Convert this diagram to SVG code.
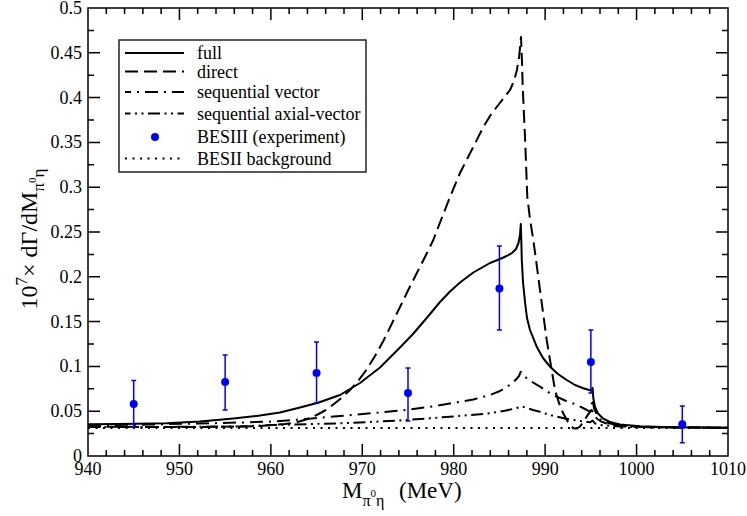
<svg xmlns="http://www.w3.org/2000/svg" width="747" height="516" viewBox="0 0 747 516" font-family="'Liberation Serif','Times New Roman',serif">
<style>
text{font-family:"Liberation Serif","Times New Roman",serif;fill:#000}
.tick{font-size:18px}
.curve{fill:none;stroke:#000;stroke-width:2;stroke-linejoin:round}
.full{}
.direct{stroke-dasharray:13 6}
.seqv{stroke-dasharray:13 6 2 6}
.seqa{stroke-dasharray:12 4.5 2 4.5 2 4.5}
.bg{stroke-dasharray:2 5.5}
.err{stroke:#0000ff;stroke-width:1.5;fill:none}
.pt{fill:#0000ff}
</style>
<rect width="747" height="516" fill="#fff"/>
<g id="axes">
<path d="M179.43 456v-12M270.86 456v-12M362.29 456v-12M453.71 456v-12M545.14 456v-12M636.57 456v-12M179.43 8v12M270.86 8v12M362.29 8v12M453.71 8v12M545.14 8v12M636.57 8v12M88 411.2h12M88 366.4h12M88 321.6h12M88 276.8h12M88 232h12M88 187.2h12M88 142.4h12M88 97.6h12M88 52.8h12M728 411.2h-12M728 366.4h-12M728 321.6h-12M728 276.8h-12M728 232h-12M728 187.2h-12M728 142.4h-12M728 97.6h-12M728 52.8h-12" stroke="#000" stroke-width="1.5" fill="none"/>
<path d="M106.29 456v-6M124.57 456v-6M142.86 456v-6M161.14 456v-6M197.71 456v-6M216 456v-6M234.29 456v-6M252.57 456v-6M289.14 456v-6M307.43 456v-6M325.71 456v-6M344 456v-6M380.57 456v-6M398.86 456v-6M417.14 456v-6M435.43 456v-6M472 456v-6M490.29 456v-6M508.57 456v-6M526.86 456v-6M563.43 456v-6M581.71 456v-6M600 456v-6M618.29 456v-6M654.86 456v-6M673.14 456v-6M691.43 456v-6M709.71 456v-6M106.29 8v6M124.57 8v6M142.86 8v6M161.14 8v6M197.71 8v6M216 8v6M234.29 8v6M252.57 8v6M289.14 8v6M307.43 8v6M325.71 8v6M344 8v6M380.57 8v6M398.86 8v6M417.14 8v6M435.43 8v6M472 8v6M490.29 8v6M508.57 8v6M526.86 8v6M563.43 8v6M581.71 8v6M600 8v6M618.29 8v6M654.86 8v6M673.14 8v6M691.43 8v6M709.71 8v6M88 433.6h6M88 388.8h6M88 344h6M88 299.2h6M88 254.4h6M88 209.6h6M88 164.8h6M88 120h6M88 75.2h6M88 30.4h6M728 433.6h-6M728 388.8h-6M728 344h-6M728 299.2h-6M728 254.4h-6M728 209.6h-6M728 164.8h-6M728 120h-6M728 75.2h-6M728 30.4h-6" stroke="#000" stroke-width="1.5" fill="none"/>
<g class="tick" text-anchor="middle">
<text x="88" y="475">940</text>
<text x="179.43" y="475">950</text>
<text x="270.86" y="475">960</text>
<text x="362.29" y="475">970</text>
<text x="453.71" y="475">980</text>
<text x="545.14" y="475">990</text>
<text x="636.57" y="475">1000</text>
<text x="728" y="475">1010</text>
</g>
<g class="tick" text-anchor="end">
<text x="82" y="462">0</text>
<text x="82" y="417.2">0.05</text>
<text x="82" y="372.4">0.1</text>
<text x="82" y="327.6">0.15</text>
<text x="82" y="282.8">0.2</text>
<text x="82" y="238">0.25</text>
<text x="82" y="193.2">0.3</text>
<text x="82" y="148.4">0.35</text>
<text x="82" y="103.6">0.4</text>
<text x="82" y="58.8">0.45</text>
<text x="82" y="14">0.5</text>
</g>
<text x="342" y="498" font-size="23">M<tspan font-size="16" dy="8">π</tspan><tspan font-size="11" dy="-9">0</tspan><tspan font-size="16" dy="9">η</tspan><tspan x="399" dy="-8">(MeV)</tspan></text>
<text transform="translate(37,239) rotate(-90)" text-anchor="middle" font-size="24">10<tspan font-size="17" dy="-10">7</tspan><tspan dy="10">× dΓ/dM</tspan><tspan font-size="17" dy="7">π</tspan><tspan font-size="11" dy="-8">0</tspan><tspan font-size="17" dy="8">η</tspan></text>
</g>
<g id="curves">
<polyline id="curve-bg" class="curve bg" points="88,428 728,428"/>
<polyline id="curve-seqa" class="curve seqa" points="88,427 150,427 240,426.5 273.3,425 340,423.3 380,421.5 406.7,420 430,418.3 450,416.7 470,415 490,413.3 506,410.5 515,408.5 521.7,406.5 527,408 533,410 540,411.7 548,414.5 556.7,416.7 565,418.5 573.3,420 582,421.3 590,422.3 592.7,420.5 595,423.5 600,425 620,426.5 640,427.2 728,427.8"/>
<polyline id="curve-seqv" class="curve seqv" points="88,425.5 150,424.5 200,423.5 240,422.5 273.3,421.5 300,419.5 340,416 380,412.5 406.7,410 430,406.8 450,403.5 473.3,399.5 490,395 500,391 506.7,387 512,383.5 516,379.5 519,376 520.8,371.7 523,375 527,378.5 533,382.5 540,386.7 548,392 556.7,396.7 565,400.5 573.3,403.5 582,407.5 590,411.7 592.7,399 594,408 597,415 600,419.5 610,423.5 620,425.5 640,427 728,427.8"/>
<polyline id="curve-direct" class="curve direct" points="88,426.5 150,427 200,427 240,426.5 260,426 273.3,425 285,424 296.7,422.3 306,419.5 316.7,415 325,410.5 333.3,404.5 342,397.5 350,390 358,381 366.7,369.5 375,356 383.3,341 391.7,324 400,307 408,290.5 416.7,273.3 425,257 433.3,240 441,220 450,197 460,173 471.7,150 483.3,127 490,116 496.7,107 503,99 510,90 514,81 516.7,71 519,58 521,37 522,62 522.7,87 525,137 527.3,197 530,219 533.3,240 536.7,265 540,290 546.7,340 550,360 555,390 559,403 563.3,413.5 568,422 573.3,428.3 577,428.5 580,426.5 584,421 588,414.5 591.7,410 593,412 596.7,418.5 601,421.5 606.7,423.5 620,425.5 640,426.8 680,427.5 728,427.7"/>
<polyline id="curve-full" class="curve full" points="88,424.3 120,424 166.7,423.3 200,421.5 233.3,418.5 260,415.5 280,412.5 300,407.5 318,402.7 340,395 360,383 380,367.5 400,347.5 413,334 426.7,318 440,302 450,291.5 460,282.5 473.3,272.5 490,263 500,259 506.7,256 512,253 516,249 518.5,243 520,235 520.8,224 521.3,240 521.8,260 523,282 525,302 527,318 530,330 536.7,346.7 543,358 550,366.7 558,374 566.7,380 575,385 583.3,388.3 589,390 591.5,390.5 592.6,388 593.3,398 595,407 598,413.5 603,418.5 610,422 620,424.5 640,426.3 670,427.2 728,427.7"/>
</g>
<g id="data">
<path class="err" d="M133.71 380.5V427M131.2 380.5h5M131.2 427h5M225.14 355V410M222.6 355h5M222.6 410h5M316.57 342V403M314 342h5M314 403h5M408 368V421M405.5 368h5M405.5 421h5M499.43 246V330M496.9 246h5M496.9 330h5M590.86 330V393M588.4 330h5M588.4 393h5M682.29 406V442.7M679.8 406h5M679.8 442.7h5"/>
<circle class="pt" cx="133.71" cy="404" r="4"/>
<circle class="pt" cx="225.14" cy="382" r="4"/>
<circle class="pt" cx="316.57" cy="373" r="4"/>
<circle class="pt" cx="408" cy="393" r="4"/>
<circle class="pt" cx="499.43" cy="288.5" r="4"/>
<circle class="pt" cx="590.86" cy="362" r="4"/>
<circle class="pt" cx="682.29" cy="424.3" r="4"/>
</g>
<rect id="frame" x="88" y="8" width="640" height="448" fill="none" stroke="#000" stroke-width="1.5"/>
<g id="legend">
<rect x="119" y="40" width="247" height="132" fill="#fff" stroke="#222" stroke-width="1.5"/>
<line class="curve full" x1="125" y1="53" x2="184" y2="53"/>
<line class="curve direct" x1="125" y1="71.5" x2="184" y2="71.5"/>
<line class="curve seqv" x1="125" y1="92" x2="184" y2="92" stroke-dashoffset="-20"/>
<line class="curve seqa" x1="125" y1="113.5" x2="184" y2="113.5" stroke-dashoffset="-23"/>
<circle class="pt" cx="155" cy="137" r="4"/>
<line class="curve bg" x1="125" y1="158.5" x2="184" y2="158.5"/>
<g font-size="18">
<text x="197" y="59">full</text>
<text x="197" y="77.5">direct</text>
<text x="197" y="98">sequential vector</text>
<text x="197" y="119.5">sequential axial-vector</text>
<text x="197" y="143">BESIII (experiment)</text>
<text x="197" y="164.5">BESII background</text>
</g>
</g>
</svg>
